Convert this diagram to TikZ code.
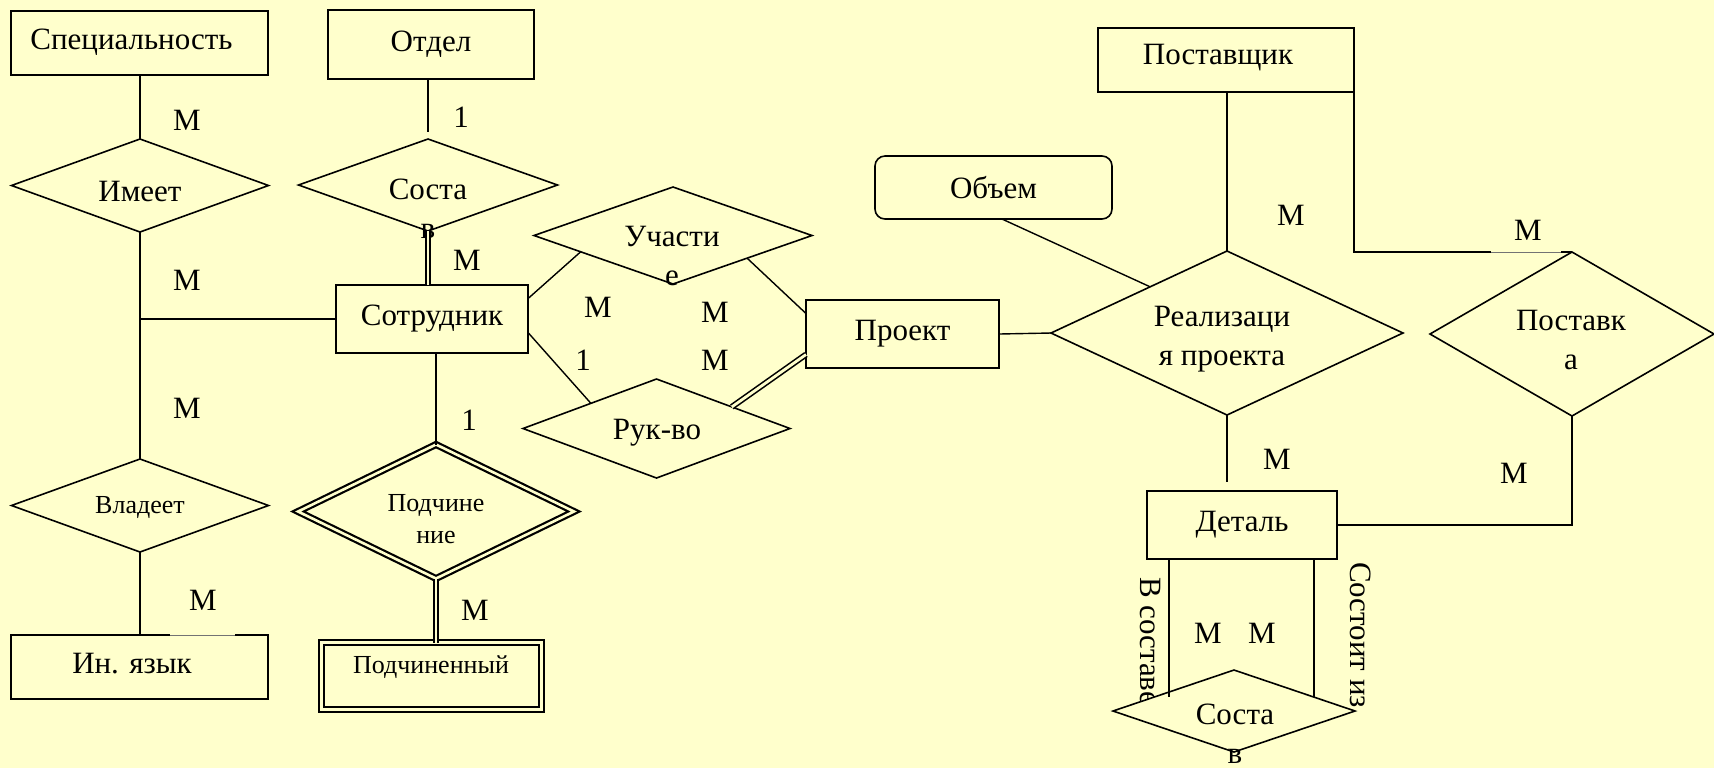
\documentclass[tikz,border=0pt]{standalone}
\usepackage{fontspec}
\setmainfont{Liberation Serif}
\usetikzlibrary{shapes.geometric,calc}
\definecolor{paper}{RGB}{255,255,204}
\begin{document}
\begin{tikzpicture}[x=0.5pt,y=-0.5pt,
  every node/.style={inner sep=0pt, outer sep=0pt},
  big/.style={font=\rmfamily\fontsize{15.5}{19.5}\selectfont},
  small/.style={font=\rmfamily\fontsize{13}{16}\selectfont},
  entity/.style={draw, line width=1pt, rectangle, big},
  weakentity/.style={draw, line width=1.2pt, double=paper, double distance=1.1pt, rectangle},
  rel/.style={draw, line width=0.8pt, diamond, fill=paper},
  weakrel/.style={draw, line width=1.1pt, double=paper, double distance=1.3pt, diamond},
  attr/.style={draw, line width=0.8pt, rounded corners=5pt, rectangle, big},
  link/.style={line width=0.7pt},
  dlink/.style={line width=0.8pt, double=paper, double distance=1.4pt},
  faint/.style={line width=0.3pt, black!55},
  card/.style={big},
]
\useasboundingbox (0,0) rectangle (1714,768);
\fill[paper] (0,0) rectangle (1714,768);

% entities
\node[entity, minimum width=128.5pt, minimum height=32pt] (spec) at (139.5,43) {};
\node[big] (tspec) at (131.5,42) {Специальность};
\node[entity, minimum width=103pt, minimum height=34.5pt] (otdel) at (431,44.5) {Отдел};
\node[entity, minimum width=96pt, minimum height=34pt] (sotr) at (432,319) {Сотрудник};
\node[entity, minimum width=128.5pt, minimum height=32pt] (inyaz) at (139.5,667) {};
\node[big] (tinyaz) at (132,664) {Ин. язык};
\node[weakentity, minimum width=110pt, minimum height=33.5pt] (podch) at (431.5,676) {};
\node[small] (tpodch) at (431,667) {Подчиненный};
\node[entity, minimum width=96.5pt, minimum height=34pt] (proekt) at (902.5,334) {Проект};
\node[attr, minimum width=118.5pt, minimum height=31.5pt] (obem) at (993.5,187.5) {Объем};
\node[entity, minimum width=128pt, minimum height=32pt] (postavshik) at (1226,60) {};
\node[big] (tpostavshik) at (1218,58) {Поставщик};
\node[entity, minimum width=95pt, minimum height=34pt] (detal) at (1242,525) {Деталь};

% relationships
\node[rel, minimum width=128.5pt, minimum height=46.5pt] (imeet) at (140,185.5) {};
\node[big] (timeet) at (140,191) {Имеет};
\node[rel, minimum width=129.5pt, minimum height=46pt] (sostavA) at (428,185) {};
\node[big, align=center] (tsostavA) at (428,209) {Соста\\в};
\node[rel, minimum width=128.5pt, minimum height=46.5pt] (vladeet) at (140,505.5) {};
\node[small] (tvladeet) at (140,507) {Владеет};
\node[rel, minimum width=139pt, minimum height=48.5pt] (uchastie) at (673,235.5) {};
\node[big, align=center] (tuchastie) at (672,256) {Участи\\е};
\node[rel, minimum width=133.5pt, minimum height=49.5pt] (rukvo) at (656.5,428.5) {};
\node[big] (trukvo) at (657,433) {Рук-во};
\node[weakrel, minimum width=138pt, minimum height=67pt] (podchinenie) at (436,511.5) {};
\node[small, align=center] (tpodchinenie) at (436,519) {Подчине\\ние};
\node[rel, minimum width=176pt, minimum height=82pt] (realiz) at (1227,333) {};
\node[big, align=center] (trealiz) at (1222,339) {Реализаци\\я проекта};
\node[rel, minimum width=142pt, minimum height=82pt] (postavka) at (1572,334) {};
\node[big, align=center] (tpostavka) at (1571,340) {Поставк\\а};

% role names of the recursive relationship, partly covered by its diamond
\node[big, rotate=-90, anchor=west] (vsostave) at (1150,577) {В составе};
\node[big, rotate=-90, anchor=west] (sostoitiz) at (1361,562) {Состоит из};
\node[rel, minimum width=121pt, minimum height=41pt] (sostavB) at (1234,711) {};
\node[big, align=center] (tsostavB) at (1235,734) {Соста\\в};

% connectors
\draw[link] (imeet.north |- spec.south) -- (imeet.north);
\draw[link] (sostavA.north |- otdel.south) -- ($(sostavA.north)+(0,-7)$);
\draw[dlink] (sostavA.south) -- (sostavA.south |- sotr.north);
\draw[link] (imeet.south) -- (vladeet.north);
\draw[link] (imeet.south |- sotr.west) -- (sotr.west);
\draw[link] (vladeet.south) -- (vladeet.south |- inyaz.north);
\draw[link] (podchinenie.north |- sotr.south) -- (podchinenie.north);
\draw[dlink] (podchinenie.south) -- (podchinenie.south |- podch.north);
\draw[link] (sotr.12) -- (uchastie.190);
\draw[link] (uchastie.-17) -- (proekt.168);
\draw[link] (sotr.-8) -- (rukvo.159);
\draw[dlink] (rukvo.16) -- (proekt.192);
\draw[link] (proekt.east) -- (realiz.west);
\draw[link] (obem.-75) -- (realiz.149);
\draw[link] (realiz.north |- postavshik.south) -- (realiz.north);
\draw[link] (postavshik.south east) |- (postavka.north);
\draw[link] (realiz.south) -- ($(realiz.south |- detal.north)+(0,-9)$);
\draw[link] (postavka.south) |- (detal.east);
\draw[link] ($(detal.south)+(-73,0)$) -- ($(sostavB.center)+(-65,-14)$);
\draw[link] ($(detal.south)+(72,0)$) -- ($(sostavB.center)+(80,-14)$);

% thinned stretches of lines under cardinality labels
\draw[paper, line width=1.3pt] ($(inyaz.north west)+(159,0)$) -- ($(inyaz.north west)+(224,0)$);
\draw[faint] ($(inyaz.north west)+(159,0)$) -- ($(inyaz.north west)+(224,0)$);
\draw[paper, line width=1.1pt] ($(postavka.north)+(-81,0)$) -- ($(postavka.north)+(-11,0)$);
\draw[faint] ($(postavka.north)+(-81,0)$) -- ($(postavka.north)+(-11,0)$);

% cardinalities
\node[card] (c1) at (187,120) {M};
\node[card] (c2) at (461,117) {1};
\node[card] (c3) at (467,260) {M};
\node[card] (c4) at (187,280) {M};
\node[card] (c5) at (187,408) {M};
\node[card] (c6) at (203,600) {M};
\node[card] (c7) at (469,420) {1};
\node[card] (c8) at (475,610) {M};
\node[card] (c9) at (598,307) {M};
\node[card] (c10) at (715,312) {M};
\node[card] (c11) at (583,360) {1};
\node[card] (c12) at (715,360) {M};
\node[card] (c13) at (1291,215) {M};
\node[card] (c14) at (1528,230) {M};
\node[card] (c15) at (1277,459) {M};
\node[card] (c16) at (1514,473) {M};
\node[card] (c17) at (1208,633) {M};
\node[card] (c18) at (1262,633) {M};
\end{tikzpicture}
\end{document}
